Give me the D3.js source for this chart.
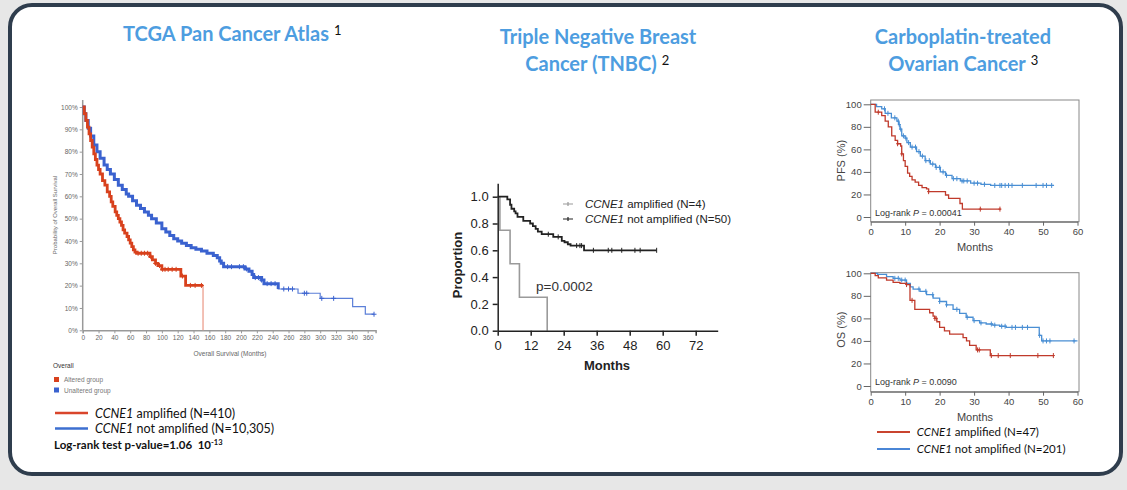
<!DOCTYPE html>
<html>
<head>
<meta charset="utf-8">
<script src="https://cdn.jsdelivr.net/npm/d3@7"></script>
<style>
body{margin:0;background:#e7e7e7;}
svg{display:block;}
</style>
</head>
<body>
<svg id="chart"></svg>
<script>
// ---------- data ----------
// KM curves: [time, survival after that time]
var tcgaAltered = [[0,100],[2,97],[4,94],[6,91],[8,88],[10,85],[12,82],[14,79],[16,76.5],[18,74],[20,72],[22,70],[25,67],[28,65],[31,62],[34,60],[36,57.5],[38,55.5],[41,53],[43,51.5],[45,50],[47,48.5],[49,47],[51,45],[53,43.5],[56,42],[58,40.5],[60,39],[62,37.5],[64,36],[66,35],[68,34.5],[85,33],[88,31.5],[92,30],[95,29],[100,27.3],[124,24.3],[130,20.1],[152,0]];
var tcgaAlteredCensor = [70,74,78,82,86,92,97,101,104,108,113,118,126,136,142,150];
var tcgaUnaltered = [[0,100],[2,97],[4,94],[7,90.5],[10,87],[14,83],[18,80],[22,77],[27,74],[31,72],[35,70],[40,67.5],[45,65],[50,63],[55,61],[58,60],[63,58],[68,56],[73,54.5],[78,53],[83,51.5],[87,50],[93,48],[100,45.5],[105,44],[110,42.5],[115,41],[120,40],[125,39],[131,38],[137,37],[143,36.3],[150,35.5],[157,34.5],[165,33.5],[170,32.5],[173,31],[175,30],[178,28.5],[205,27.5],[210,26.5],[214,25],[216,23.6],[226,22.5],[229,20.9],[247,18.5],[272,16.6],[300,14.3],[341,10.6],[357,7.2],[368,7.2]];
var tcgaUnalteredCensor = [183,188,198,203,207,218,222,226,233,238,243,254,260,265,280,283,302,317,368];
var tcgaXTicks = d3.range(0, 361, 20);
var tcgaYTicks = d3.range(0, 101, 10);

var tnbcAmp = [[0,1.0],[0.8,0.75],[4.5,0.5],[7.9,0.25],[18,0]];
var tnbcNotAmp = [[0,1.0],[3.5,0.98],[4.5,0.94],[5,0.91],[6,0.89],[6.5,0.875],[7.2,0.85],[9.3,0.82],[11.8,0.80],[12.8,0.78],[13.8,0.76],[14.6,0.74],[16,0.72],[20.2,0.70],[23.3,0.67],[24.3,0.66],[25.5,0.645],[26.5,0.635],[31.4,0.60],[57.8,0.60]];
var tnbcNotAmpCensor = [18.4,22,28.7,29.9,30.5,34.8,40.2,41.5,45.1,49.9,51.8,57.8];
var tnbcXTicks = [0,12,24,36,48,60,72];
var tnbcYTicks = [0,0.2,0.4,0.6,0.8,1.0];

var pfsAmp = [[0,100],[1.3,93],[3.2,90],[4.2,85],[5.1,80],[6.1,72],[7.1,68],[7.8,65],[8.7,63],[9,56],[9.5,50],[10,45],[10.7,39],[11.3,36],[12,33],[12.9,31],[13.9,28],[14.9,26],[16.2,25],[16.8,22.5],[21.7,19.5],[22.6,16.6],[25.9,12],[26.6,7],[37.7,7]];
var pfsAmpCensor = [2.2,7.8,9,16.8,31.8,37.5];
var pfsNotAmp = [[0,100],[1.7,98],[3.2,96],[4.2,92],[6,88],[7.6,85],[8.1,82],[8.5,78],[9,72],[10,70],[10.5,66],[11.5,62],[13.3,58],[14.4,54],[15.8,50],[17.3,47],[18.8,44],[20.2,40],[21.7,37],[23.6,34],[26,32],[29,30],[32,29],[34.8,28],[53.2,28]];
var pfsNotAmpCensor = [4,5,7,8,8.3,8.7,9.5,10.2,11,12,13,14,15,16,17,18,19,20,21,22,24,25,26.5,27,28,30,31,33,36,37.5,38,39,40,41,44,48,50,51,52.5];

var osAmp = [[0,100],[1.3,98],[2.2,96],[4.6,94],[6.5,92],[8.5,91],[10.4,90],[11.4,76],[12.8,68],[17.1,65],[18.1,62],[18.6,60],[19.2,57],[20,52],[21.4,49],[22.9,46],[26.8,43],[27.8,40],[28.7,36],[30.6,32],[34.7,27],[53.2,27]];
var osAmpCensor = [10.4,12,18.6,19,31,31.5,35,37,40.5,48.5,53];
var osNotAmp = [[0,100],[2,99],[4.6,97],[6.5,95.5],[8.5,94],[10.4,91],[11.5,88],[12.3,86],[14.3,84],[16.2,81],[18.1,78],[20,75],[22,72],[23.9,68],[25.8,64.5],[27.7,61],[29.7,58],[31.6,56],[33.5,55],[35.4,54],[37.4,53],[39.3,52],[48.9,45],[49.6,40],[60,40]];
var osNotAmpCensor = [7,8,9,10,14,16,18,20,22,25,28,30,32,35,36,38,39,41,42,44,45.5,49,50,51,52,59];
var ovaXTicks = [0,10,20,30,40,50,60];
var ovaYTicks = [0,20,40,60,80,100];

var W = 1127, H = 490;
var svg = d3.select("#chart").attr("width", W).attr("height", H);

// frame
svg.append("rect").attr("x", 10).attr("y", 5).attr("width", 1111).attr("height", 469)
  .attr("rx", 22).attr("fill", "#fff").attr("stroke", "#2f3d4d").attr("stroke-width", 4);

// ---------- helpers ----------
var stepLine = function(x, y){
  return d3.line().x(function(d){return x(d[0]);}).y(function(d){return y(d[1]);}).curve(d3.curveStepAfter);
};
function valueAt(data, t){
  var v = data[0][1];
  for (var i=0;i<data.length;i++){ if (data[i][0] <= t) v = data[i][1]; }
  return v;
}
function censorMarks(g, x, y, data, times, color, h, w){
  g.selectAll(null).data(times).enter().append("path")
    .attr("d", function(t){
      var cx = x(t), cy = y(valueAt(data, t));
      return "M"+cx+","+(cy-h)+"V"+(cy+h)+"M"+(cx-w)+","+cy+"H"+(cx+w);
    })
    .attr("stroke", color).attr("stroke-width", 1).attr("fill", "none");
}
function styleAxis(g, size, color, lineColor, lineW){
  g.selectAll("text").attr("font-size", size).attr("fill", color).attr("font-family", "Liberation Sans, Arial, sans-serif");
  g.selectAll("line").attr("stroke", lineColor);
  g.select(".domain").attr("stroke", lineColor).attr("stroke-width", lineW);
}
function title(lines, cx, y0, sup){
  var last;
  lines.forEach(function(l, i){
    last = svg.append("text").attr("x", cx[i]).attr("y", y0 + i*27).attr("text-anchor", "middle")
      .attr("font-family", "Lato, sans-serif").attr("font-weight", "bold").attr("font-size", 20)
      .attr("fill", "#4d9de0").text(l);
  });
  var n = lines.length - 1;
  var w = last.node().getComputedTextLength();
  svg.append("text").attr("x", cx[n] + w/2 + 5).attr("y", y0 + n*27 - 6)
    .attr("font-family", "Lato, sans-serif").attr("font-size", 13).attr("fill", "#111").text(sup);
}

title(["TCGA Pan Cancer Atlas"], [226], 41, "1");
title(["Triple Negative Breast", "Cancer (TNBC)"], [598, 591], 44, "2");
title(["Carboplatin-treated", "Ovarian Cancer"], [963, 957], 44, "3");

// ---------- panel 1: TCGA ----------
var x1 = d3.scaleLinear().domain([0, 370]).range([82.7, 375.6]);
var y1 = d3.scaleLinear().domain([0, 100]).range([330.3, 107]);
var p1 = svg.append("g");
var ax1 = p1.append("g").attr("transform", "translate(0,330.3)")
  .call(d3.axisBottom(x1).tickValues(tcgaXTicks).tickSize(3).tickPadding(2));
styleAxis(ax1, 6.5, "#666", "#999", 1.5);
var ay1 = p1.append("g").attr("transform", "translate(82.7,0)")
  .call(d3.axisLeft(y1).tickValues(tcgaYTicks).tickFormat(function(d){return d+"%";}).tickSize(3).tickPadding(2));
styleAxis(ay1, 6.5, "#666", "#999", 1.5);
ay1.select(".domain").attr("d", "M0,330.3V100");
p1.append("text").attr("x", 230).attr("y", 356).attr("text-anchor", "middle")
  .attr("font-family", "Liberation Sans, Arial, sans-serif").attr("font-size", 6.5).attr("fill", "#666")
  .text("Overall Survival (Months)");
p1.append("text").attr("transform", "translate(57,215) rotate(-90)").attr("text-anchor", "middle")
  .attr("font-family", "Liberation Sans, Arial, sans-serif").attr("font-size", 6).attr("fill", "#666")
  .text("Probability of Overall Survival");

var line1 = stepLine(x1, y1);
var blueCol = "#3a62cf", redCol = "#d8411d";
p1.append("path").attr("d", line1(tcgaUnaltered)).attr("fill", "none").attr("stroke", "#5b7fd8").attr("stroke-width", 1.2);
p1.append("path").attr("d", line1(tcgaUnaltered.filter(function(d){return d[0] <= 247;})))
  .attr("fill", "none").attr("stroke", blueCol).attr("stroke-width", 3);
censorMarks(p1, x1, y1, tcgaUnaltered, tcgaUnalteredCensor, blueCol, 2.5, 2.5);
var redMain = tcgaAltered.slice(0, -1);
redMain.push([tcgaAltered[tcgaAltered.length-1][0], redMain[redMain.length-1][1]]);
p1.append("path").attr("d", line1(tcgaAltered.slice(-2)))
  .attr("fill", "none").attr("stroke", "#eca08f").attr("stroke-width", 1.3);
p1.append("path").attr("d", line1(redMain)).attr("fill", "none").attr("stroke", redCol).attr("stroke-width", 2.8);
censorMarks(p1, x1, y1, tcgaAltered, tcgaAlteredCensor, redCol, 2.5, 2.5);

// small cBioPortal legend
p1.append("text").attr("x", 53).attr("y", 368).attr("font-family", "Liberation Sans, Arial, sans-serif")
  .attr("font-size", 6.5).attr("fill", "#333").text("Overall");
[["Altered group", redCol], ["Unaltered group", blueCol]].forEach(function(d, i){
  p1.append("rect").attr("x", 54).attr("y", 377 + i*10.5).attr("width", 5).attr("height", 5).attr("fill", d[1]);
  p1.append("text").attr("x", 64).attr("y", 382 + i*10.5).attr("font-family", "Liberation Sans, Arial, sans-serif")
    .attr("font-size", 6.5).attr("fill", "#777").text(d[0]);
});

function legendItem(g, x0, x1l, tx, yy, color, lw, label, size){
  g.append("line").attr("x1", x0).attr("x2", x1l).attr("y1", yy).attr("y2", yy)
    .attr("stroke", color).attr("stroke-width", lw);
  var t = g.append("text").attr("x", tx).attr("y", yy + size*0.36).attr("font-family", "Lato, sans-serif")
    .attr("font-size", size).attr("fill", "#111");
  t.append("tspan").attr("font-style", "italic").text("CCNE1");
  t.append("tspan").text(" " + label);
}
legendItem(p1, 55, 88, 95, 413, "#d9452b", 2.5, "amplified (N=410)", 12.5);
legendItem(p1, 55, 88, 95, 428.5, "#3d6fd0", 2.5, "not amplified (N=10,305)", 12.5);
var lr = p1.append("text").attr("x", 54).attr("y", 449).attr("font-family", "Lato, sans-serif")
  .attr("font-size", 11.5).attr("font-weight", "bold").attr("fill", "#111");
lr.append("tspan").text("Log-rank test p-value=1.06\u00a0\u00a010");
lr.append("tspan").attr("font-size", 7.5).attr("dy", -4.5).text("-13");

// ---------- panel 2: TNBC ----------
var x2 = d3.scaleLinear().domain([0, 80]).range([497.7, 717.7]);
var y2 = d3.scaleLinear().domain([0, 1.1]).range([330.7, 183.3]);
var p2 = svg.append("g");
var line2 = stepLine(x2, y2);
p2.append("path").attr("d", line2(tnbcAmp)).attr("fill", "none").attr("stroke", "#9a9a9a").attr("stroke-width", 1.6);
p2.append("path").attr("d", line2(tnbcNotAmp)).attr("fill", "none").attr("stroke", "#222").attr("stroke-width", 1.8);
censorMarks(p2, x2, y2, tnbcNotAmp, tnbcNotAmpCensor, "#222", 2.5, 0);
var ax2 = p2.append("g").attr("transform", "translate(0,330.7)")
  .call(d3.axisBottom(x2).tickValues(tnbcXTicks).tickSize(5).tickPadding(5).tickSizeOuter(0));
styleAxis(ax2, 13, "#222", "#222", 1.5);
ax2.selectAll("line").attr("stroke-width", 1.5);
var ay2 = p2.append("g").attr("transform", "translate(497.7,0)")
  .call(d3.axisLeft(y2).tickValues(tnbcYTicks).tickFormat(d3.format(".1f")).tickSize(5).tickPadding(4).tickSizeOuter(0));
styleAxis(ay2, 13, "#222", "#222", 1.5);
ay2.selectAll("line").attr("stroke-width", 1.5);
p2.append("text").attr("x", 607).attr("y", 370).attr("text-anchor", "middle")
  .attr("font-family", "Liberation Sans, Arial, sans-serif").attr("font-weight", "bold").attr("font-size", 13)
  .attr("fill", "#222").text("Months");
p2.append("text").attr("transform", "translate(462,265) rotate(-90)").attr("text-anchor", "middle")
  .attr("font-family", "Liberation Sans, Arial, sans-serif").attr("font-weight", "bold").attr("font-size", 13)
  .attr("fill", "#222").text("Proportion");
p2.append("text").attr("x", 536).attr("y", 291).attr("font-family", "Liberation Sans, Arial, sans-serif")
  .attr("font-size", 13.5).attr("fill", "#333").text("p=0.0002");
[["amplified (N=4)", "#999"], ["not amplified (N=50)", "#222"]].forEach(function(d, i){
  var yy = 204 + i*15;
  p2.append("path").attr("d", "M563," + yy + "H573M568," + (yy-2) + "V" + (yy+2))
    .attr("stroke", d[1]).attr("stroke-width", 1.2);
  var t = p2.append("text").attr("x", 585).attr("y", yy + 4).attr("font-family", "Liberation Sans, Arial, sans-serif")
    .attr("font-size", 11.5).attr("fill", "#222");
  t.append("tspan").attr("font-style", "italic").text("CCNE1");
  t.append("tspan").text(" " + d[0]);
});

// ---------- panel 3: ovarian PFS / OS ----------
var ovaRed = "#c03a2b", ovaBlue = "#4a8fd4";
function ovaPanel(top, bottom, y100, y0, label, amp, ampC, notAmp, notAmpC, pText){
  var g = svg.append("g");
  var x = d3.scaleLinear().domain([0, 60]).range([870.7, 1077.5]);
  var y = d3.scaleLinear().domain([0, 100]).range([y0, y100]);
  g.append("rect").attr("x", 870.7).attr("y", top).attr("width", 1079 - 870.7).attr("height", bottom - top)
    .attr("fill", "none").attr("stroke", "#888").attr("stroke-width", 1);
  var ln = stepLine(x, y);
  g.append("path").attr("d", ln(notAmp)).attr("fill", "none").attr("stroke", ovaBlue).attr("stroke-width", 1.3);
  censorMarks(g, x, y, notAmp, notAmpC, ovaBlue, 2.5, 1.5);
  g.append("path").attr("d", ln(amp)).attr("fill", "none").attr("stroke", ovaRed).attr("stroke-width", 1.3);
  censorMarks(g, x, y, amp, ampC, ovaRed, 2.5, 1.5);
  var ax = g.append("g").attr("transform", "translate(0," + bottom + ")")
    .call(d3.axisBottom(x).tickValues(ovaXTicks).tickSize(4).tickPadding(3).tickSizeOuter(0));
  styleAxis(ax, 9.5, "#444", "#666", 1);
  var ay = g.append("g").attr("transform", "translate(870.7,0)")
    .call(d3.axisLeft(y).tickValues(ovaYTicks).tickSize(7).tickPadding(2).tickSizeOuter(0));
  styleAxis(ay, 9.5, "#444", "#666", 1);
  ay.select(".domain").remove();
  g.append("text").attr("x", 975).attr("y", bottom + 29).attr("text-anchor", "middle")
    .attr("font-family", "Liberation Sans, Arial, sans-serif").attr("font-size", 11).attr("fill", "#444").text("Months");
  g.append("text").attr("transform", "translate(845," + ((y0 + y100)/2) + ") rotate(-90)").attr("text-anchor", "middle")
    .attr("font-family", "Liberation Sans, Arial, sans-serif").attr("font-size", 11).attr("fill", "#444").text(label);
  var t = g.append("text").attr("x", 875).attr("y", y0 - 1).attr("font-family", "Liberation Sans, Arial, sans-serif")
    .attr("font-size", 9).attr("fill", "#333");
  t.append("tspan").text("Log-rank ");
  t.append("tspan").attr("font-style", "italic").text("P");
  t.append("tspan").text(" = " + pText);
}
ovaPanel(100, 221.7, 104.3, 217, "PFS (%)", pfsAmp, pfsAmpCensor, pfsNotAmp, pfsNotAmpCensor, "0.00041");
ovaPanel(272.7, 391.7, 273.3, 386, "OS (%)", osAmp, osAmpCensor, osNotAmp, osNotAmpCensor, "0.0090");

var p3 = svg.append("g");
legendItem(p3, 877, 910, 916.7, 432, "#c9442f", 2, "amplified (N=47)", 11.5);
legendItem(p3, 877, 910, 916.7, 449, "#4a86d6", 2, "not amplified (N=201)", 11.5);
</script>
</body>
</html>
